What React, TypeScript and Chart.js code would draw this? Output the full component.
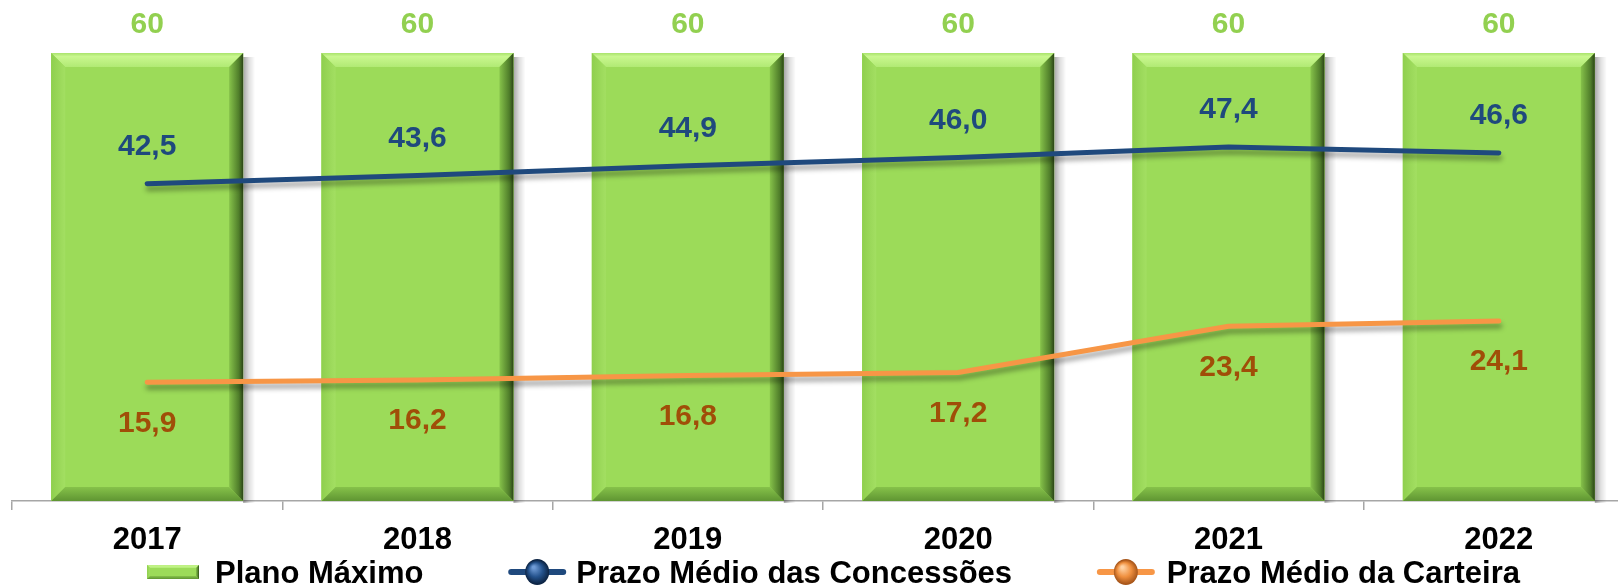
import React, { useEffect, useRef } from "react";
import { Chart, registerables } from "chart.js";

Chart.register(...registerables);

const years = ["2017", "2018", "2019", "2020", "2021", "2022"];
const planoMaximo = [60, 60, 60, 60, 60, 60];
const prazoConcessoes = [42.5, 43.6, 44.9, 46.0, 47.4, 46.6];
const prazoCarteira = [15.9, 16.2, 16.8, 17.2, 23.4, 24.1];

const seriesNames = ["Plano Máximo", "Prazo Médio das Concessões", "Prazo Médio da Carteira"];

const FONT = '"Liberation Sans", Arial, sans-serif';
const GREEN = "#9CDB59";
const GREEN_LABEL = "#92D050";
const BLUE = "#1F497D";
const ORANGE = "#F79646";
const ORANGE_LABEL = "#A04E08";

const fmt = (v: number) => v.toFixed(1).replace(".", ",");

function bevelBox(ctx: CanvasRenderingContext2D, L: number, T: number, R: number, B: number, b: number) {
  ctx.save();
  ctx.fillStyle = GREEN;
  ctx.fillRect(L, T, R - L, B - T);
  // top
  let g = ctx.createLinearGradient(0, T, 0, T + b);
  g.addColorStop(0, "#a9e36c");
  g.addColorStop(0.25, "#c9f78f");
  g.addColorStop(1, "#b1ea74");
  ctx.fillStyle = g;
  ctx.beginPath();
  ctx.moveTo(L, T); ctx.lineTo(R, T); ctx.lineTo(R - b, T + b); ctx.lineTo(L + b, T + b); ctx.closePath();
  ctx.fill();
  // left
  g = ctx.createLinearGradient(L, 0, L + b, 0);
  g.addColorStop(0, "#8fcf4e");
  g.addColorStop(1, "#a3df62");
  ctx.fillStyle = g;
  ctx.beginPath();
  ctx.moveTo(L, T); ctx.lineTo(L + b, T + b); ctx.lineTo(L + b, B - b); ctx.lineTo(L, B); ctx.closePath();
  ctx.fill();
  // bottom
  g = ctx.createLinearGradient(0, B - b, 0, B);
  g.addColorStop(0, "#86c24a");
  g.addColorStop(1, "#5f9532");
  ctx.fillStyle = g;
  ctx.beginPath();
  ctx.moveTo(L, B); ctx.lineTo(R, B); ctx.lineTo(R - b, B - b); ctx.lineTo(L + b, B - b); ctx.closePath();
  ctx.fill();
  // right
  g = ctx.createLinearGradient(R - b, 0, R, 0);
  g.addColorStop(0, "#86c24a");
  g.addColorStop(0.7, "#4f7d2a");
  g.addColorStop(1, "#2b4516");
  ctx.fillStyle = g;
  ctx.beginPath();
  ctx.moveTo(R, T); ctx.lineTo(R, B); ctx.lineTo(R - b, B - b); ctx.lineTo(R - b, T + b); ctx.closePath();
  ctx.fill();
  ctx.restore();
}

function sphere(ctx: CanvasRenderingContext2D, x: number, y: number, r: number, light: string, base: string, dark: string) {
  ctx.save();
  const g = ctx.createRadialGradient(x - r * 0.3, y - r * 0.4, r * 0.1, x, y, r);
  g.addColorStop(0, light);
  g.addColorStop(0.55, base);
  g.addColorStop(1, dark);
  ctx.fillStyle = g;
  ctx.beginPath();
  ctx.ellipse(x, y, r, r * 1.08, 0, 0, Math.PI * 2);
  ctx.fill();
  ctx.restore();
}

const barPlugin = {
  id: "bar3d",
  beforeDatasetDraw(chart: any, args: any) {
    const ds = chart.data.datasets[args.index];
    const ctx = chart.ctx;
    if (ds.type === "bar") {
      const meta = chart.getDatasetMeta(args.index);
      meta.data.forEach((el: any) => {
        const R = el.x + el.width / 2;
        const g = ctx.createLinearGradient(R, 0, R + 12, 0);
        g.addColorStop(0, "rgba(0,0,0,0.35)");
        g.addColorStop(0.5, "rgba(0,0,0,0.12)");
        g.addColorStop(1, "rgba(0,0,0,0)");
        ctx.save();
        ctx.fillStyle = g;
        ctx.fillRect(R, el.y + 4, 12, el.base - el.y - 2);
        ctx.restore();
      });
    } else {
      ctx.save();
      ctx.shadowColor = "rgba(0,0,0,0.35)";
      ctx.shadowOffsetY = 5;
      ctx.shadowOffsetX = 1;
      ctx.shadowBlur = 5;
    }
  },
  afterDatasetDraw(chart: any, args: any) {
    const ds = chart.data.datasets[args.index];
    const ctx = chart.ctx;
    if (ds.type === "bar") {
      const meta = chart.getDatasetMeta(args.index);
      meta.data.forEach((el: any) => {
        bevelBox(ctx, el.x - el.width / 2, el.y, el.x + el.width / 2, el.base, 14);
      });
    } else {
      ctx.restore();
    }
  },
  afterDatasetsDraw(chart: any) {
    const ctx = chart.ctx;
    ctx.save();
    ctx.font = `bold 30px ${FONT}`;
    ctx.textAlign = "center";
    ctx.textBaseline = "middle";
    chart.data.datasets.forEach((ds: any, i: number) => {
      const meta = chart.getDatasetMeta(i);
      meta.data.forEach((el: any, j: number) => {
        const v = ds.data[j];
        if (i === 0) {
          ctx.fillStyle = GREEN_LABEL;
          ctx.fillText(String(v), el.x, el.y - 28);
        } else if (i === 1) {
          ctx.fillStyle = BLUE;
          ctx.fillText(fmt(v), el.x, el.y - 37);
        } else {
          ctx.fillStyle = ORANGE_LABEL;
          ctx.fillText(fmt(v), el.x, el.y + 41);
        }
      });
    });
    ctx.restore();
  },
  afterDraw(chart: any) {
    const ctx = chart.ctx;
    ctx.save();
    ctx.font = `bold 31px ${FONT}`;
    ctx.textBaseline = "alphabetic";
    ctx.textAlign = "left";
    const markerW = [52, 56, 56];
    const textGap = [16, 11, 13];
    const widths = seriesNames.map((n) => ctx.measureText(n).width);
    const startX = 147;
    const endX = 1520;
    const content = widths.reduce((a, b) => a + b, 0) + markerW.reduce((a, b) => a + b, 0) + textGap.reduce((a, b) => a + b, 0);
    const gap = (endX - startX - content) / 2;
    const cy = 572;
    let x = startX;
    seriesNames.forEach((name, i) => {
      if (i === 0) {
        bevelBox(ctx, x, cy - 7, x + markerW[0], cy + 7, 3);
      } else {
        const col = i === 1 ? BLUE : ORANGE;
        ctx.strokeStyle = col;
        ctx.lineWidth = 6;
        ctx.lineCap = "round";
        ctx.beginPath();
        ctx.moveTo(x + 2, cy);
        ctx.lineTo(x + markerW[i] - 2, cy);
        ctx.stroke();
        if (i === 1) sphere(ctx, x + markerW[i] / 2, cy, 12, "#6f9bd6", "#24528c", "#0c2444");
        else sphere(ctx, x + markerW[i] / 2, cy, 12, "#ffd2a4", "#ef8f3e", "#a8561a");
      }
      x += markerW[i] + textGap[i];
      ctx.fillStyle = "#000000";
      ctx.fillText(name, x, 583);
      x += widths[i] + gap;
    });
    ctx.restore();
  },
};

export default function App() {
  const ref = useRef<HTMLCanvasElement | null>(null);
  useEffect(() => {
    if (!ref.current) return;
    const chart = new Chart(ref.current, {
      type: "bar",
      data: {
        labels: years,
        datasets: [
          {
            type: "bar",
            label: seriesNames[0],
            data: planoMaximo,
            backgroundColor: GREEN,
            borderWidth: 0,
            categoryPercentage: 1,
            barPercentage: 0.71,
            order: 3,
          } as any,
          {
            type: "line",
            label: seriesNames[1],
            data: prazoConcessoes,
            borderColor: BLUE,
            borderWidth: 5,
            borderCapStyle: "round",
            pointRadius: 0,
            tension: 0,
            order: 1,
          } as any,
          {
            type: "line",
            label: seriesNames[2],
            data: prazoCarteira,
            borderColor: ORANGE,
            borderWidth: 5,
            borderCapStyle: "round",
            pointRadius: 0,
            tension: 0,
            order: 2,
          } as any,
        ],
      },
      options: {
        responsive: false,
        animation: false,
        devicePixelRatio: 1,
        layout: { padding: { top: 53, left: 12, right: 2, bottom: 0 } },
        plugins: {
          legend: { display: false },
          tooltip: { enabled: false },
        },
        scales: {
          x: {
            offset: true,
            grid: {
              offset: true,
              drawOnChartArea: false,
              drawTicks: true,
              tickLength: 9,
              color: "#a6a6a6",
              lineWidth: 1.5,
            },
            border: { display: true, color: "#a6a6a6", width: 1.5 },
            ticks: {
              color: "#000000",
              font: { family: FONT, size: 31, weight: "bold" },
              padding: 12,
              maxRotation: 0,
            },
            afterFit: (scale: any) => {
              scale.height = 85;
            },
          },
          y: {
            display: false,
            min: 0,
            max: 60,
          },
        },
      },
      plugins: [barPlugin],
    });
    return () => chart.destroy();
  }, []);
  return (
    <div style={{ position: "fixed", left: 0, top: 0, width: 1618, height: 586, overflow: "hidden", background: "#fff" }}>
      <canvas ref={ref} width={1636} height={586} style={{ display: "block" }} />
    </div>
  );
}
